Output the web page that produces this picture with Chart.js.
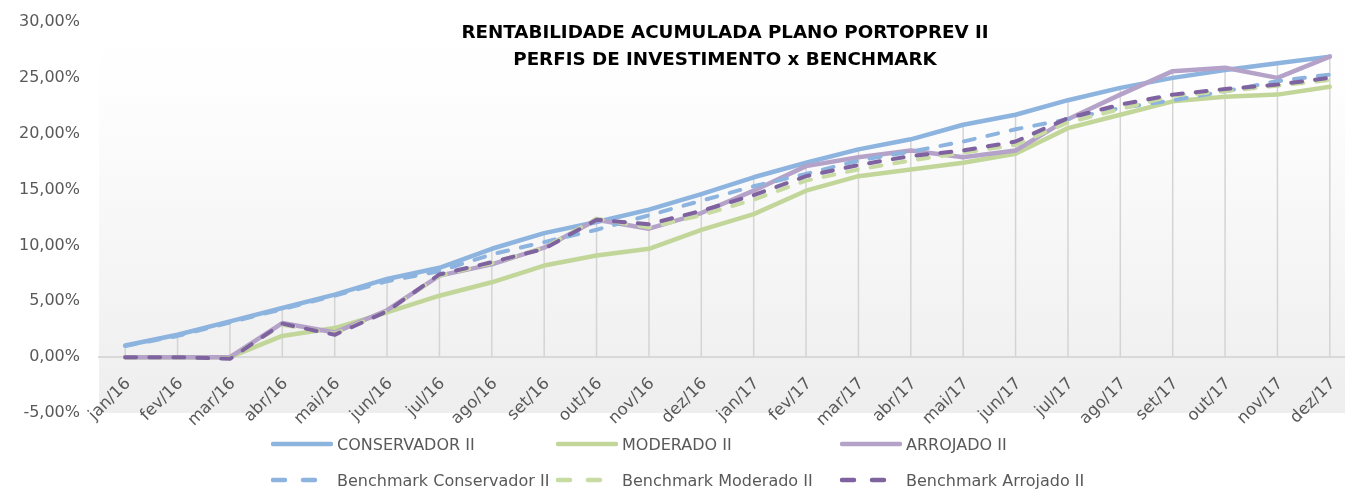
<!DOCTYPE html>
<html>
<head>
<meta charset="utf-8">
<script src="https://cdn.jsdelivr.net/npm/chart.js@4.4.0/dist/chart.umd.min.js"></script>
<style>
  body { margin: 0; overflow: hidden; background: #fff; width: 1345px; height: 490px; }
  #wrap { position: relative; width: 1360px; height: 490px; }
  #title { position: absolute; left: 425px; top: 18px; width: 600px; text-align: center;
           font: bold 18.3px "DejaVu Sans"; line-height: 27px; color: #000; }
  .item { position: absolute; height: 20px; display: flex; align-items: center;
          font: 16px "DejaVu Sans"; color: #595959; white-space: nowrap; }
  .item svg { margin-right: 4px; }
</style>
</head>
<body>
<div id="wrap">
  <canvas id="chart" width="1360" height="490"></canvas>
  <div id="title">RENTABILIDADE ACUMULADA PLANO PORTOPREV II<br>PERFIS DE INVESTIMENTO x BENCHMARK</div>
  <div id="legend"></div>
</div>
<script>
var labels = ['jan/16', 'fev/16', 'mar/16', 'abr/16', 'mai/16', 'jun/16', 'jul/16', 'ago/16', 'set/16', 'out/16', 'nov/16', 'dez/16',
              'jan/17', 'fev/17', 'mar/17', 'abr/17', 'mai/17', 'jun/17', 'jul/17', 'ago/17', 'set/17', 'out/17', 'nov/17', 'dez/17'];

var conservador = [1.04, 2.0, 3.2, 4.4, 5.6, 7.0, 8.0, 9.7, 11.1, 12.1, 13.2, 14.6, 16.1, 17.4, 18.6, 19.5, 20.8, 21.7, 23.0, 24.1, 25.0, 25.7, 26.3, 26.9];
var moderado = [0, 0, 0, 1.9, 2.6, 4.0, 5.5, 6.7, 8.2, 9.1, 9.7, 11.4, 12.8, 14.9, 16.2, 16.8, 17.4, 18.2, 20.5, 21.7, 22.9, 23.3, 23.5, 24.2];
var arrojado = [0, 0, 0, 3.05, 2.2, 4.2, 7.3, 8.3, 9.8, 12.3, 11.5, 12.9, 14.9, 17.1, 17.9, 18.5, 17.9, 18.5, 21.3, 23.5, 25.6, 25.9, 25.0, 26.9];
var benchConservador = [1.0, 1.9, 3.1, 4.3, 5.5, 6.8, 7.7, 9.2, 10.3, 11.4, 12.7, 14.0, 15.3, 16.4, 17.6, 18.4, 19.3, 20.4, 21.3, 22.3, 23.0, 23.8, 24.7, 25.3];
var benchModerado = [0, 0, -0.1, 2.9, 2.1, 4.1, 7.3, 8.4, 9.8, 12.4, 11.6, 12.7, 14.1, 15.8, 16.8, 17.6, 18.3, 19.0, 21.0, 22.2, 23.4, 23.8, 24.3, 24.8];
var benchArrojado = [0, 0, -0.15, 3.0, 2.0, 4.1, 7.4, 8.5, 9.7, 12.3, 11.9, 13.1, 14.5, 16.2, 17.2, 18.0, 18.5, 19.3, 21.4, 22.6, 23.5, 24.0, 24.4, 25.0];

var yTicks = [-5, 0, 5, 10, 15, 20, 25, 30];

var series = [
    { label: 'CONSERVADOR II', data: conservador, color: '#8db3df', dashed: false },
    { label: 'MODERADO II', data: moderado, color: '#c2d69a', dashed: false },
    { label: 'ARROJADO II', data: arrojado, color: '#b4a2c9', dashed: false },
    { label: 'Benchmark Conservador II', data: benchConservador, color: '#8db3df', dashed: true },
    { label: 'Benchmark Moderado II', data: benchModerado, color: '#c8dba2', dashed: true },
    { label: 'Benchmark Arrojado II', data: benchArrojado, color: '#7f63a1', dashed: true }
];

function pct(v) {
    return v.toFixed(2).replace('.', ',') + '%';
}

var plotDecor = {
    id: 'plotDecor',
    beforeDraw: function (chart) {
        var a = chart.chartArea;
        var ctx = chart.ctx;
        var g = ctx.createLinearGradient(0, a.top, 0, a.bottom);
        g.addColorStop(0, '#ffffff');
        g.addColorStop(0.15, '#fefefe');
        g.addColorStop(1, '#eeeeee');
        ctx.save();
        ctx.fillStyle = g;
        ctx.fillRect(a.left, a.top, a.right - a.left, a.bottom - a.top);
        ctx.restore();
    },
    beforeDatasetsDraw: function (chart) {
        // drop lines from the highest series down to the axis
        var x = chart.scales.x, y = chart.scales.y, ctx = chart.ctx;
        ctx.save();
        ctx.strokeStyle = '#d4d4d4';
        ctx.lineWidth = 1.5;
        for (var i = 0; i < labels.length; ++i) {
            var top = Math.max.apply(null, series.map(s => s.data[i]));
            var px = x.getPixelForValue(i);
            ctx.beginPath();
            ctx.moveTo(px, y.getPixelForValue(0));
            ctx.lineTo(px, y.getPixelForValue(top));
            ctx.stroke();
        }
        ctx.restore();
    }
};

var tickFont = { family: 'DejaVu Sans', size: 16 };

var chart = new Chart(document.getElementById('chart').getContext('2d'), {
    type: 'line',
    data: {
        labels: labels,
        datasets: series.map(function (s, i) {
            return {
                label: s.label,
                data: s.data,
                borderColor: s.color,
                backgroundColor: s.color,
                borderWidth: s.dashed ? 4 : 4.5,
                borderDash: s.dashed ? [11, 13] : [],
                borderCapStyle: 'round',
                borderJoinStyle: 'round',
                pointRadius: 0,
                tension: 0,
                fill: false,
                order: series.length - i
            };
        })
    },
    options: {
        responsive: false,
        animation: false,
        layout: { padding: { top: 22, bottom: 77, left: 0, right: 4 } },
        plugins: { legend: { display: false }, tooltip: { enabled: false } },
        scales: {
            x: {
                position: { y: 0 },
                offset: true,
                grid: { display: false, drawTicks: false },
                border: { display: true, color: '#d9d9d9', width: 2 },
                ticks: { autoSkip: false, minRotation: 45, maxRotation: 45, color: '#595959',
                         font: { family: 'DejaVu Sans', size: 16.5 }, padding: 17, labelOffset: 3 },
                afterFit: function (s) { s.height = 0; s.paddingLeft = 0; s.paddingRight = 0; }
            },
            y: {
                min: yTicks[0],
                max: yTicks[yTicks.length - 1],
                afterBuildTicks: function (s) { s.ticks = yTicks.map(v => ({ value: v })); },
                grid: { display: false, drawTicks: false },
                border: { display: false },
                ticks: { color: '#595959', font: tickFont, padding: 19, callback: pct },
                afterFit: function (s) { s.width = 99; s.paddingTop = 0; s.paddingBottom = 0; }
            }
        }
    },
    plugins: [plotDecor]
});

// legend in three columns, two rows
var legendCols = [271, 556, 840];
var legendRows = [444, 480];
var legend = document.getElementById('legend');
series.forEach(function (s, i) {
    var item = document.createElement('div');
    item.className = 'item';
    item.style.left = legendCols[i % 3] + 'px';
    item.style.top = (legendRows[Math.floor(i / 3)] - 10) + 'px';
    var dash = s.dashed ? ' stroke-dasharray="12 18"' : '';
    item.innerHTML = '<svg width="62" height="8"><line x1="2" y1="4" x2="60" y2="4" stroke="' + s.color +
        '" stroke-width="4.5" stroke-linecap="round"' + dash + '/></svg><span>' + s.label + '</span>';
    legend.appendChild(item);
});
</script>
</body>
</html>
